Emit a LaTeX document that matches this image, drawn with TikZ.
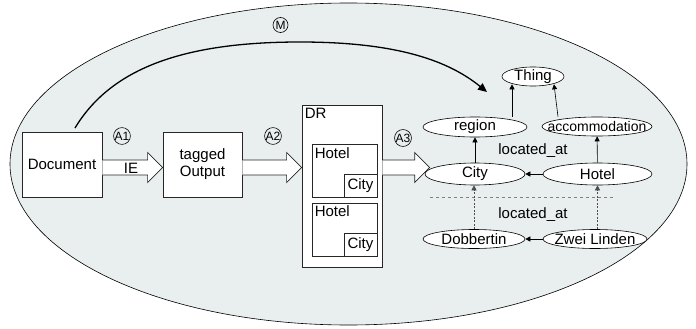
\documentclass[tikz,border=0pt]{standalone}
\usepackage{fontspec}
\setmainfont{Liberation Sans}
\usetikzlibrary{shapes.geometric,positioning,calc,arrows.meta}
\definecolor{bgblue}{RGB}{233,239,239}
\tikzset{
  box/.style={draw=black!85, fill=white, line width=0.8pt, inner sep=0pt},
  onto/.style={ellipse, draw, fill=white, line width=0.6pt, inner sep=0pt, minimum height=19pt, label=center:#1},
  circ/.style={circle, draw, line width=0.6pt, inner sep=0pt, minimum size=15pt, font=\fontsize{12}{13}\selectfont},
  isa/.style={-{Triangle[length=5pt,width=5pt]}, line width=0.6pt},
  inst/.style={isa, dash pattern=on 2pt off 1.5pt, draw=black!70},
  every label/.style={inner sep=0pt},
}
\newcommand{\fatarrow}[2]{%
  \draw[fill=white, draw=black!85, line width=0.7pt] let \p1=(#1), \p2=(#2) in
    (\x1,{\y1+7.5pt}) -- ({\x2-15pt},{\y1+7.5pt}) -- ({\x2-15pt},{\y1+15pt}) -- (\x2,\y1)
    -- ({\x2-15pt},{\y1-15pt}) -- ({\x2-15pt},{\y1-7.5pt}) -- (\x1,{\y1-7.5pt});}
\begin{document}
\begin{tikzpicture}[x=1pt,y=-1pt,font=\fontsize{15}{17}\selectfont]
  \useasboundingbox (0,0) rectangle (696,329);
  \draw[fill=bgblue, line width=0.6pt] (348.5,164) ellipse [x radius=338.5, y radius=161];

  % pipeline
  \node[box, minimum width=80pt, minimum height=65pt] (doc) at (62,164.5) {Document};
  \node[box, minimum width=79pt, minimum height=65pt, align=center] (tagged) at (202.5,164.5) {tagged\\Output};
  \node[box, minimum width=80pt, minimum height=162pt] (dr) at (342,186) {};
  \node[anchor=north west, inner sep=3pt] (drlabel) at (dr.north west) {DR};
  \foreach \i/\y in {1/171,2/229.5} {
    \node[box, minimum width=65pt, minimum height=53pt] (slot\i) at (344.5,\y) {};
    \node[anchor=north west, inner sep=3pt] at (slot\i.north west) {Hotel};
    \node[box, anchor=south east, minimum width=33pt, minimum height=23pt] (slotcity\i) at (slot\i.south east) {City};
  }

  % ontology
  \node[onto=Thing, minimum width=62pt] (thing) at (533,76.5) {};
  \node[onto=region, minimum width=104pt, minimum height=20pt] (region) at (475,127) {};
  \node[onto={\fontsize{14}{16}\selectfont accommodation}, minimum width=110pt] (accom) at (597,126.5) {};
  \node[onto=City, minimum width=100pt, minimum height=22pt] (city) at (475,174) {};
  \node[onto=Hotel, minimum width=109pt, minimum height=22pt] (hotel) at (597.5,174) {};
  \node[onto=Dobbertin, minimum width=102pt] (dobb) at (474,239) {};
  \node[onto=Zwei Linden, minimum width=104pt] (zwei) at (595,239) {};
  \node (locup) at (533,151) {located\_at};
  \node (loclow) at (533,215) {located\_at};

  \fatarrow{[yshift=-3pt]doc.east}{tagged.west}
  \fatarrow{[yshift=-3pt]tagged.east}{dr.west}
  \fatarrow{[yshift=-3pt]dr.east |- doc.east}{[xshift=5pt]city.west}
  \node[inner sep=0pt] (ie) at (131,168.5) {IE};

  \node[circ] (a1) at (122,136) {A1};
  \node[circ] (a2) at (273,136) {A2};
  \node[circ] (a3) at (403,138) {A3};
  \node[circ] (m) at (280.5,25) {M};

  \draw[isa] (city) -- (region);
  \draw[isa] (hotel) -- (accom);
  \draw[isa] ([xshift=37pt]region.north) -- ([xshift=37pt, yshift=2pt]region.north |- thing.south);
  \draw[isa] ([xshift=-39pt]accom.north) -- ([xshift=21pt, yshift=2pt]thing.south);
  \draw[isa] (hotel) -- (city);
  \draw[isa] (zwei) -- (dobb);
  \draw[dashed, draw=black!50, line width=0.4pt] (430,197) -- (615,197);
  \draw[inst] (dobb.north) -- (dobb.north |- city.south);
  \draw[inst] (hotel.south |- zwei.north) -- (hotel.south);

  % mapping arc
  \coordinate (mstart) at (75,128);
  \coordinate (mend) at (487,92);
  \draw[line width=1.3pt, -{Triangle[length=9pt,width=8pt]}] (mstart) .. controls (110,70) and (180,42) .. (300,42)
    .. controls (400,42) and (450,62) .. (mend);
\end{tikzpicture}
\end{document}
